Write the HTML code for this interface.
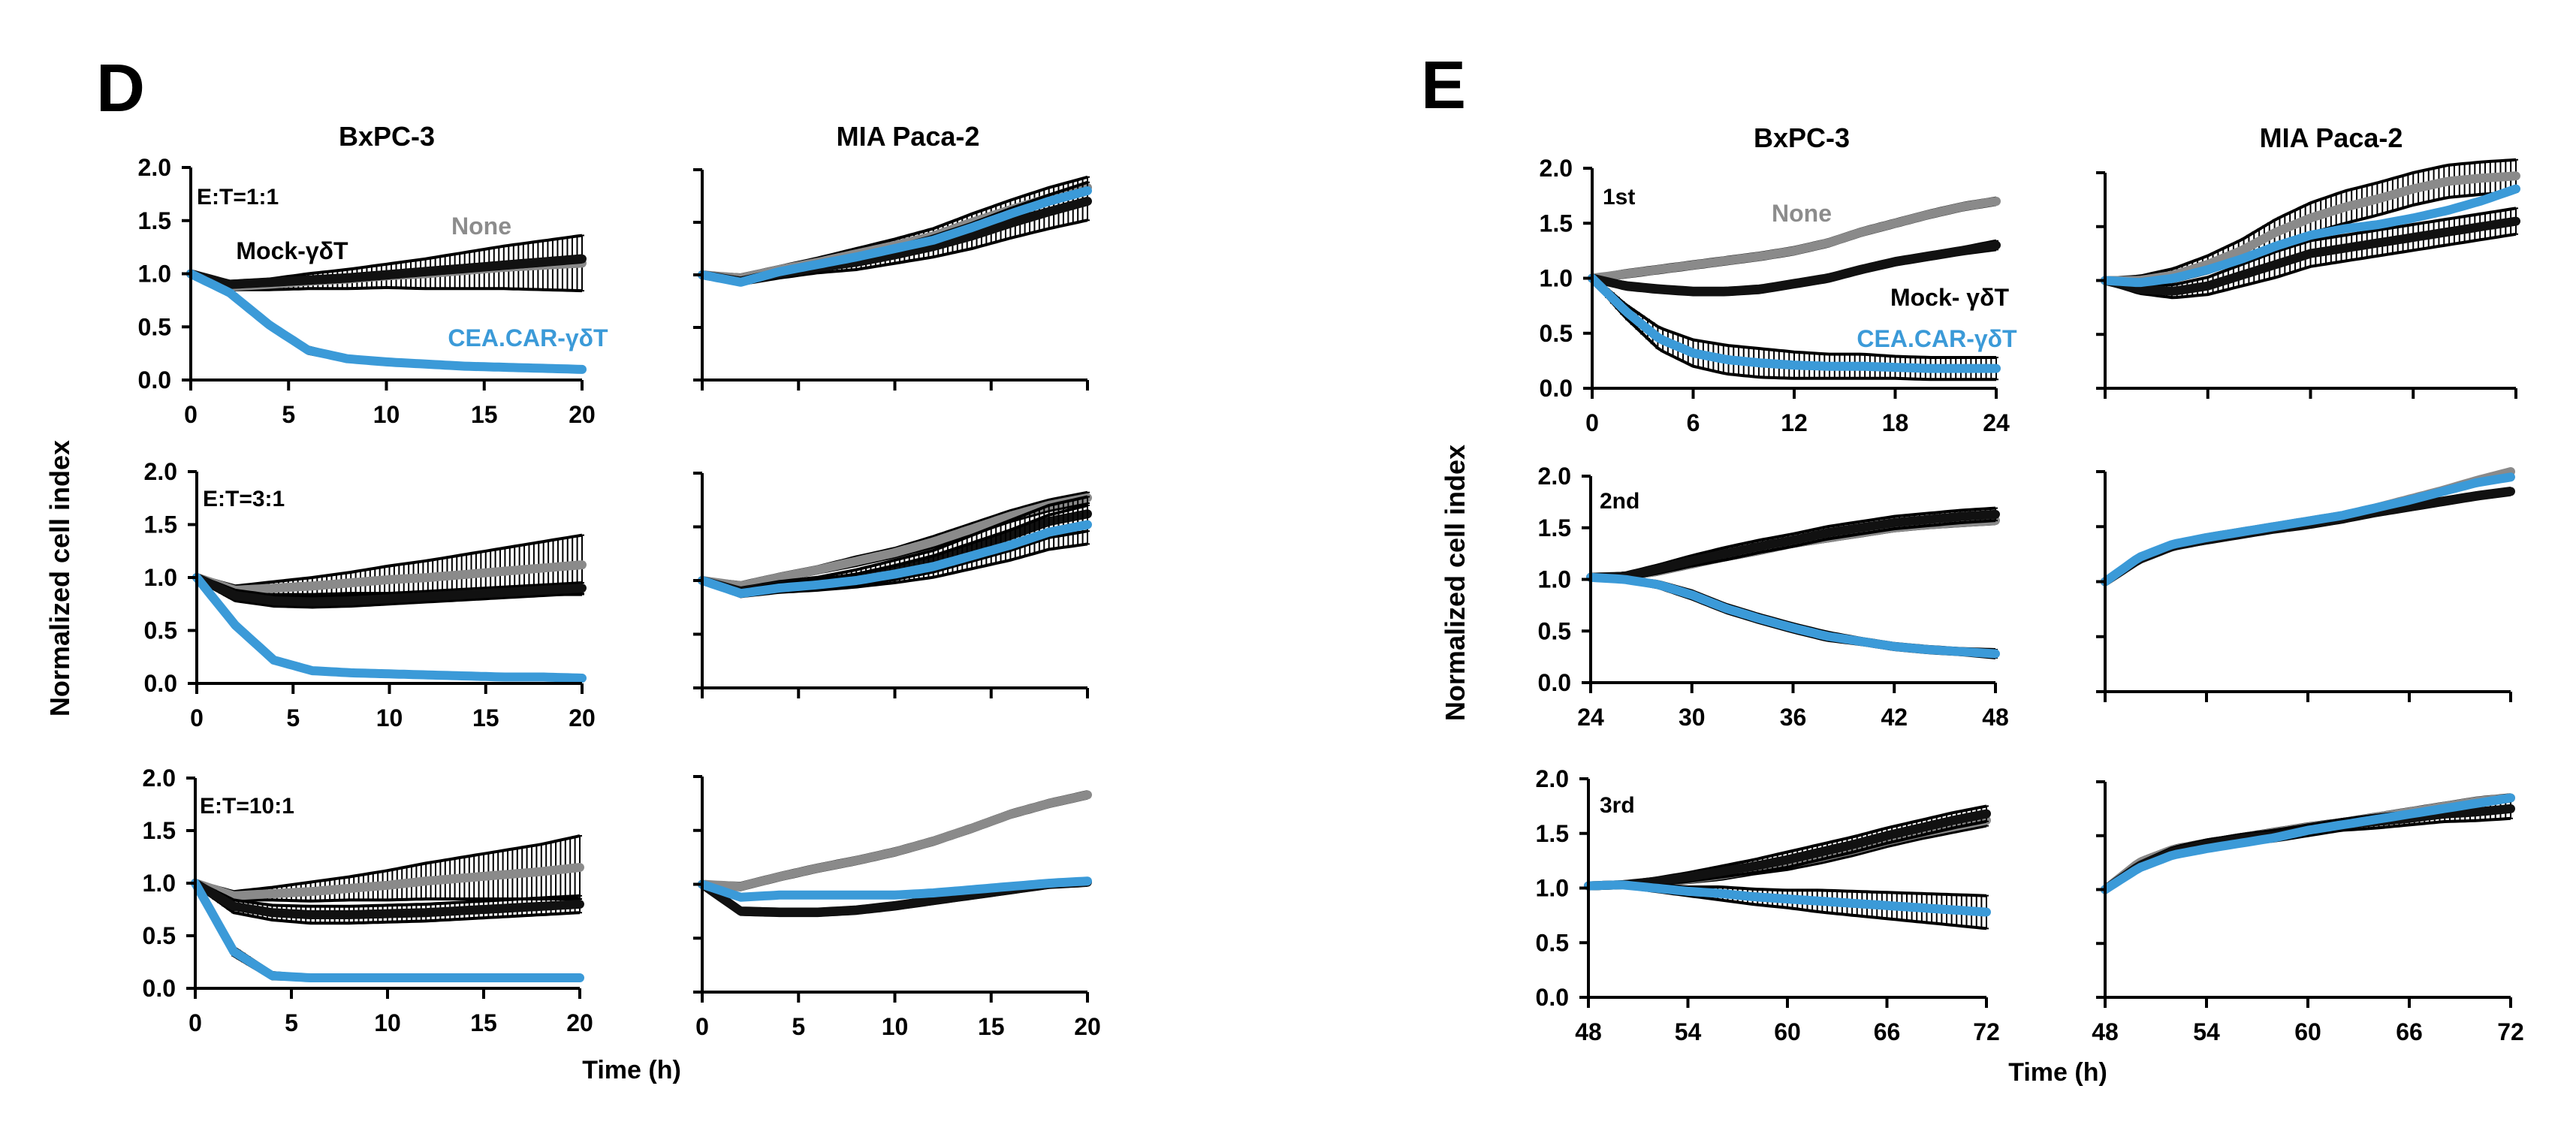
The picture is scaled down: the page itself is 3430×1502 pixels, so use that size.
<!DOCTYPE html>
<html><head><meta charset="utf-8">
<style>
html,body{margin:0;padding:0;background:#fff;}
svg{display:block;}
text{font-family:"Liberation Sans",Arial,sans-serif;font-weight:bold;}
</style></head>
<body>
<svg id="fig" width="3430" height="1502" viewBox="0 0 3430 1502" xmlns="http://www.w3.org/2000/svg">
<rect width="3430" height="1502" fill="#fff"/>
<text x="128" y="148" font-size="90">D</text>
<text x="1892" y="144" font-size="90">E</text>
<text x="515" y="194" font-size="36" text-anchor="middle">BxPC-3</text>
<text x="1209" y="194" font-size="36" text-anchor="middle">MIA Paca-2</text>
<text x="2399" y="196" font-size="36" text-anchor="middle">BxPC-3</text>
<text x="3104" y="196" font-size="36" text-anchor="middle">MIA Paca-2</text>
<text transform="translate(92,770) rotate(-90)" font-size="36" text-anchor="middle">Normalized cell index</text>
<text transform="translate(1950,776) rotate(-90)" font-size="36" text-anchor="middle">Normalized cell index</text>
<text x="841" y="1436" font-size="34" text-anchor="middle">Time (h)</text>
<text x="2740" y="1439" font-size="34" text-anchor="middle">Time (h)</text>
<text x="262" y="272" font-size="30">E:T=1:1</text>
<text x="270" y="674" font-size="30">E:T=3:1</text>
<text x="266" y="1083" font-size="30">E:T=10:1</text>
<text x="2134" y="272" font-size="30">1st</text>
<text x="2130" y="677" font-size="30">2nd</text>
<text x="2130" y="1082" font-size="30">3rd</text>
<text x="641" y="312" font-size="32" fill="#8c8c8c" text-anchor="middle">None</text>
<text x="389" y="345" font-size="32" fill="#000" text-anchor="middle">Mock-γδT</text>
<text x="703" y="461" font-size="32" fill="#3b9ad8" text-anchor="middle">CEA.CAR-γδT</text>
<text x="2399" y="295" font-size="32" fill="#8c8c8c" text-anchor="middle">None</text>
<text x="2596" y="407" font-size="32" fill="#000" text-anchor="middle">Mock- γδT</text>
<text x="2579" y="462" font-size="32" fill="#3b9ad8" text-anchor="middle">CEA.CAR-γδT</text>
<g id="plots"></g>
</svg>
<script>
// ---- data ----
const yTicks = [0, 0.5, 1.0, 1.5, 2.0];
const yTickLabels = ["0.0", "0.5", "1.0", "1.5", "2.0"];
const xTicksD = [0, 5, 10, 15, 20];
const xTicksE1 = [0, 6, 12, 18, 24];
const xTicksE2 = [24, 30, 36, 42, 48];
const xTicksE3 = [48, 54, 60, 66, 72];
const timesD = [0, 2, 4, 6, 8, 10, 12, 14, 16, 18, 20];
const timesE1 = [0, 2, 4, 6, 8, 10, 12, 14, 16, 18, 20, 22, 24];
const timesE2 = [24, 26, 28, 30, 32, 34, 36, 38, 40, 42, 44, 46, 48];
const timesE3 = [48, 50, 52, 54, 56, 58, 60, 62, 64, 66, 68, 70, 72];

// D row1 BxPC-3
const d1bNone = [1.0,0.88,0.9,0.93,0.95,0.98,1.0,1.03,1.06,1.08,1.1];
const d1bNoneErr = [0.02,0.03,0.05,0.07,0.09,0.11,0.14,0.17,0.2,0.23,0.26];
const d1bMock = [1.0,0.9,0.92,0.94,0.96,0.99,1.02,1.05,1.08,1.11,1.14];
const d1bMockErr = [0.02,0.03,0.03,0.03,0.03,0.03,0.03,0.03,0.03,0.03,0.03];
const d1bCar = [1.0,0.82,0.52,0.28,0.2,0.17,0.15,0.13,0.12,0.11,0.1];
const d1bCarErr = [0.02,0.03,0.03,0.03,0.02,0.02,0.02,0.02,0.02,0.02,0.02];
// D row1 MIA
const d1mNone = [1.0,0.97,1.05,1.12,1.2,1.28,1.37,1.5,1.62,1.73,1.83];
const d1mNoneErr = [0.02,0.03,0.03,0.04,0.05,0.06,0.07,0.08,0.09,0.1,0.1];
const d1mMock = [1.0,0.94,1.01,1.07,1.12,1.19,1.27,1.37,1.49,1.6,1.7];
const d1mMockErr = [0.02,0.03,0.04,0.05,0.07,0.08,0.1,0.12,0.14,0.16,0.18];
const d1mCar = [1.0,0.93,1.03,1.1,1.17,1.25,1.33,1.45,1.58,1.7,1.8];
const d1mCarErr = [0.02,0.02,0.02,0.02,0.02,0.02,0.02,0.02,0.02,0.02,0.02];
// D row2 BxPC-3
const d2bNone = [1.0,0.88,0.9,0.92,0.95,0.98,1.0,1.03,1.06,1.09,1.12];
const d2bNoneErr = [0.02,0.04,0.06,0.08,0.1,0.13,0.16,0.19,0.22,0.25,0.28];
const d2bMock = [1.0,0.83,0.78,0.77,0.78,0.8,0.82,0.84,0.86,0.88,0.9];
const d2bMockErr = [0.02,0.05,0.05,0.05,0.05,0.05,0.05,0.05,0.05,0.05,0.05];
const d2bCar = [1.0,0.55,0.22,0.12,0.1,0.09,0.08,0.07,0.06,0.06,0.05];
const d2bCarErr = [0.02,0.03,0.02,0.02,0.02,0.02,0.02,0.02,0.02,0.02,0.02];
// D row2 MIA
const d2mNone = [1.0,0.95,1.03,1.1,1.18,1.26,1.36,1.48,1.6,1.7,1.77];
const d2mNoneErr = [0.02,0.03,0.03,0.03,0.04,0.04,0.05,0.05,0.05,0.05,0.05];
const d2mMock = [1.0,0.9,0.95,0.98,1.03,1.1,1.18,1.3,1.42,1.55,1.62];
const d2mMockErr = [0.02,0.03,0.04,0.05,0.07,0.09,0.1,0.12,0.14,0.15,0.16];
const d2mCar = [1.0,0.88,0.93,0.96,1.0,1.06,1.13,1.23,1.33,1.45,1.52];
const d2mCarErr = [0.02,0.03,0.04,0.05,0.06,0.08,0.1,0.12,0.14,0.16,0.18];
// D row3 BxPC-3
const d3bNone = [1.0,0.88,0.9,0.92,0.95,0.98,1.02,1.05,1.08,1.11,1.15];
const d3bNoneErr = [0.02,0.04,0.06,0.09,0.11,0.14,0.17,0.2,0.23,0.26,0.3];
const d3bMock = [1.0,0.78,0.72,0.7,0.7,0.71,0.72,0.74,0.76,0.78,0.8];
const d3bMockErr = [0.02,0.06,0.07,0.08,0.08,0.08,0.08,0.08,0.08,0.08,0.08];
const d3bCar = [1.0,0.35,0.12,0.1,0.1,0.1,0.1,0.1,0.1,0.1,0.1];
const d3bCarErr = [0.02,0.04,0.03,0.02,0.02,0.02,0.02,0.02,0.02,0.02,0.02];
// D row3 MIA
const d3mNone = [1.0,0.98,1.07,1.15,1.22,1.3,1.4,1.52,1.65,1.75,1.83];
const d3mNoneErr = [0.02,0.03,0.03,0.03,0.03,0.03,0.03,0.03,0.03,0.03,0.03];
const d3mMock = [1.0,0.75,0.74,0.74,0.76,0.8,0.85,0.9,0.95,1.0,1.02];
const d3mMockErr = [0.02,0.03,0.03,0.03,0.03,0.03,0.03,0.03,0.03,0.03,0.03];
const d3mCar = [1.0,0.88,0.9,0.9,0.9,0.9,0.92,0.95,0.98,1.01,1.03];
const d3mCarErr = [0.02,0.02,0.02,0.02,0.02,0.02,0.02,0.02,0.02,0.02,0.02];
// E row1 BxPC-3
const e1bNone = [1.0,1.04,1.08,1.12,1.16,1.2,1.25,1.32,1.42,1.5,1.58,1.65,1.7];
const e1bNoneErr = [0.02,0.03,0.03,0.03,0.03,0.03,0.03,0.03,0.03,0.03,0.03,0.03,0.03];
const e1bMock = [1.0,0.93,0.9,0.88,0.88,0.9,0.95,1.0,1.08,1.15,1.2,1.25,1.3];
const e1bMockErr = [0.02,0.03,0.03,0.03,0.03,0.03,0.03,0.03,0.03,0.03,0.03,0.03,0.04];
const e1bCar = [1.0,0.7,0.45,0.32,0.26,0.23,0.21,0.2,0.2,0.19,0.18,0.18,0.18];
const e1bCarErr = [0.02,0.06,0.1,0.12,0.13,0.13,0.12,0.11,0.11,0.1,0.1,0.1,0.1];
// E row1 MIA
const e1mNone = [1.0,1.0,1.05,1.15,1.28,1.45,1.58,1.68,1.76,1.85,1.92,1.95,1.97];
const e1mNoneErr = [0.02,0.04,0.06,0.08,0.1,0.12,0.14,0.15,0.15,0.15,0.15,0.15,0.15];
const e1mMock = [1.0,0.92,0.9,0.95,1.05,1.15,1.25,1.3,1.35,1.4,1.45,1.5,1.55];
const e1mMockErr = [0.02,0.04,0.06,0.08,0.1,0.12,0.12,0.12,0.12,0.12,0.12,0.12,0.12];
const e1mCar = [1.0,0.98,1.02,1.1,1.2,1.32,1.42,1.48,1.52,1.58,1.65,1.74,1.85];
const e1mCarErr = [0.02,0.02,0.02,0.02,0.02,0.02,0.02,0.02,0.02,0.02,0.02,0.02,0.02];
// E row2 BxPC-3
const e2bNone = [1.02,1.03,1.08,1.15,1.22,1.28,1.35,1.4,1.45,1.5,1.53,1.55,1.57];
const e2bNoneErr = [0.02,0.03,0.03,0.03,0.03,0.03,0.03,0.03,0.03,0.03,0.03,0.03,0.03];
const e2bMock = [1.02,1.03,1.1,1.18,1.25,1.32,1.38,1.45,1.5,1.55,1.58,1.61,1.63];
const e2bMockErr = [0.02,0.03,0.04,0.05,0.06,0.06,0.06,0.06,0.06,0.06,0.06,0.06,0.06];
const e2bCar = [1.02,1.0,0.95,0.85,0.72,0.62,0.53,0.45,0.4,0.35,0.32,0.3,0.28];
const e2bCarErr = [0.02,0.02,0.03,0.04,0.04,0.04,0.04,0.04,0.03,0.03,0.03,0.03,0.04];
// E row2 MIA
const e2mNone = [1.0,1.2,1.33,1.4,1.45,1.5,1.55,1.6,1.67,1.75,1.83,1.92,2.0];
const e2mNoneErr = [0.02,0.02,0.02,0.02,0.02,0.02,0.02,0.02,0.02,0.02,0.02,0.02,0.02];
const e2mMock = [1.0,1.2,1.32,1.38,1.43,1.48,1.52,1.57,1.63,1.68,1.73,1.78,1.82];
const e2mMockErr = [0.02,0.02,0.02,0.03,0.03,0.03,0.03,0.03,0.03,0.03,0.03,0.03,0.03];
const e2mCar = [1.0,1.22,1.34,1.4,1.45,1.5,1.55,1.6,1.67,1.74,1.82,1.9,1.95];
const e2mCarErr = [0.02,0.02,0.02,0.02,0.02,0.02,0.02,0.02,0.02,0.02,0.02,0.02,0.02];
// E row3 BxPC-3
const e3bNone = [1.02,1.03,1.05,1.08,1.12,1.17,1.22,1.28,1.35,1.43,1.5,1.56,1.62];
const e3bNoneErr = [0.02,0.02,0.03,0.03,0.04,0.04,0.05,0.05,0.05,0.05,0.05,0.05,0.05];
const e3bMock = [1.02,1.03,1.06,1.1,1.15,1.2,1.26,1.33,1.4,1.48,1.55,1.62,1.68];
const e3bMockErr = [0.02,0.02,0.03,0.04,0.05,0.06,0.07,0.07,0.07,0.07,0.07,0.07,0.07];
const e3bCar = [1.02,1.03,1.0,0.97,0.95,0.92,0.9,0.88,0.86,0.84,0.82,0.8,0.78];
const e3bCarErr = [0.02,0.02,0.03,0.04,0.06,0.07,0.08,0.1,0.11,0.12,0.13,0.14,0.15];
// E row3 MIA
const e3mNone = [1.0,1.25,1.37,1.43,1.48,1.53,1.58,1.62,1.67,1.72,1.77,1.82,1.85];
const e3mNoneErr = [0.02,0.03,0.03,0.03,0.03,0.03,0.03,0.03,0.03,0.03,0.03,0.03,0.03];
const e3mMock = [1.0,1.22,1.35,1.42,1.47,1.5,1.55,1.6,1.63,1.66,1.7,1.72,1.75];
const e3mMockErr = [0.02,0.03,0.04,0.04,0.04,0.05,0.05,0.05,0.06,0.06,0.07,0.08,0.09];
const e3mCar = [1.0,1.2,1.32,1.38,1.43,1.48,1.55,1.6,1.65,1.7,1.75,1.8,1.85];
const e3mCarErr = [0.02,0.02,0.02,0.02,0.02,0.02,0.02,0.02,0.02,0.02,0.02,0.02,0.02];

// ---- layout (geometry only) ----
const NS = "http://www.w3.org/2000/svg";
const root = document.getElementById("plots");
const panels = [
 {id:"d-row1-bxpc3", x0:254, x1:775, y0:506, y1:223, t:timesD, xt:xTicksD, yl:true, xl:true, s:[d1bNone,d1bNoneErr,d1bMock,d1bMockErr,d1bCar,d1bCarErr]},
 {id:"d-row1-mia", x0:935, x1:1448, y0:506, y1:226, t:timesD, xt:xTicksD, yl:false, xl:false, s:[d1mNone,d1mNoneErr,d1mMock,d1mMockErr,d1mCar,d1mCarErr]},
 {id:"d-row2-bxpc3", x0:262, x1:775, y0:910, y1:628, t:timesD, xt:xTicksD, yl:true, xl:true, s:[d2bNone,d2bNoneErr,d2bMock,d2bMockErr,d2bCar,d2bCarErr]},
 {id:"d-row2-mia", x0:935, x1:1448, y0:916, y1:630, t:timesD, xt:xTicksD, yl:false, xl:false, s:[d2mNone,d2mNoneErr,d2mMock,d2mMockErr,d2mCar,d2mCarErr]},
 {id:"d-row3-bxpc3", x0:260, x1:772, y0:1316, y1:1036, t:timesD, xt:xTicksD, yl:true, xl:true, s:[d3bNone,d3bNoneErr,d3bMock,d3bMockErr,d3bCar,d3bCarErr]},
 {id:"d-row3-mia", x0:935, x1:1448, y0:1321, y1:1034, t:timesD, xt:xTicksD, yl:false, xl:true, s:[d3mNone,d3mNoneErr,d3mMock,d3mMockErr,d3mCar,d3mCarErr]},
 {id:"e-row1-bxpc3", x0:2120, x1:2658, y0:517, y1:224, t:timesE1, xt:xTicksE1, yl:true, xl:true, s:[e1bNone,e1bNoneErr,e1bMock,e1bMockErr,e1bCar,e1bCarErr]},
 {id:"e-row1-mia", x0:2803, x1:3350, y0:517, y1:230, t:timesE1, xt:xTicksE1, yl:false, xl:false, s:[e1mNone,e1mNoneErr,e1mMock,e1mMockErr,e1mCar,e1mCarErr]},
 {id:"e-row2-bxpc3", x0:2118, x1:2657, y0:909, y1:634, t:timesE2, xt:xTicksE2, yl:true, xl:true, s:[e2bNone,e2bNoneErr,e2bMock,e2bMockErr,e2bCar,e2bCarErr]},
 {id:"e-row2-mia", x0:2803, x1:3343, y0:921, y1:628, t:timesE2, xt:xTicksE2, yl:false, xl:false, s:[e2mNone,e2mNoneErr,e2mMock,e2mMockErr,e2mCar,e2mCarErr]},
 {id:"e-row3-bxpc3", x0:2115, x1:2645, y0:1328, y1:1037, t:timesE3, xt:xTicksE3, yl:true, xl:true, s:[e3bNone,e3bNoneErr,e3bMock,e3bMockErr,e3bCar,e3bCarErr]},
 {id:"e-row3-mia", x0:2803, x1:3343, y0:1328, y1:1041, t:timesE3, xt:xTicksE3, yl:false, xl:true, s:[e3mNone,e3mNoneErr,e3mMock,e3mMockErr,e3mCar,e3mCarErr]}
];
const seriesNames = ["none","mock","car"];
const seriesColors = ["#8a8a8a","#111111","#3b9ad8"];

function mk(tag, attrs, parent){
  const el = document.createElementNS(NS, tag);
  for (const k in attrs) el.setAttribute(k, attrs[k]);
  parent.appendChild(el);
  return el;
}
function interp(ts, vs, t){
  for (let i=0;i<ts.length-1;i++){
    if (t<=ts[i+1]){ const f=(t-ts[i])/(ts[i+1]-ts[i]); return vs[i]+(vs[i+1]-vs[i])*f; }
  }
  return vs[vs.length-1];
}

panels.forEach(p=>{
  const g = mk("g", {}, root);
  
  
  const tMin = p.xt[0], tMax = p.xt[p.xt.length-1];
  const sx = t => p.x0 + (t - tMin) / (tMax - tMin) * (p.x1 - p.x0);
  const sy = v => p.y0 + (v / 2) * (p.y1 - p.y0);
  for (let k=0;k<3;k++){
    const vals = p.s[2*k], errs = p.s[2*k+1];
    const sg = mk("g", {}, g);
    
    
    const n = 80;
    let up = "", lo = "", mid = "";
    for (let i=0;i<=n;i++){
      const t = tMin + (tMax-tMin)*i/n;
      const v = interp(p.t, vals, t), e = interp(p.t, errs, t);
      const x = sx(t);
      up += x.toFixed(1)+","+sy(v+e).toFixed(1)+" ";
      lo += x.toFixed(1)+","+sy(v-e).toFixed(1)+" ";
      mid += x.toFixed(1)+","+sy(v).toFixed(1)+" ";
      if (e > 0.035){
        const eb = mk("path", {d:"M"+x+" "+sy(v+e)+"V"+sy(v-e)+"M"+(x-3)+" "+sy(v+e)+"h6M"+(x-3)+" "+sy(v-e)+"h6", stroke:"#000", "stroke-width":2, fill:"none"}, sg);
        
        
      }
    }
    const u = mk("polyline", {points:up, fill:"none", stroke:"#000", "stroke-width":4}, sg);
    
    
    const l = mk("polyline", {points:lo, fill:"none", stroke:"#000", "stroke-width":4}, sg);
    
    
    const m = mk("polyline", {points:mid, fill:"none", stroke:seriesColors[k], "stroke-width":12, "stroke-linejoin":"round", "stroke-linecap":"round"}, sg);
    
    
  }
  const ax = mk("path", {d:"M"+p.x0+" "+p.y1+"V"+p.y0+"H"+p.x1, stroke:"#000", "stroke-width":4, fill:"none"}, g);
  
  
  yTicks.forEach((v,i)=>{
    const tk = mk("line", {x1:p.x0-12, x2:p.x0, y1:sy(v), y2:sy(v), stroke:"#000", "stroke-width":4}, g);
    
    
    if (p.yl){
      const tl = mk("text", {x:p.x0-26, y:sy(v)+11, "font-size":32, "text-anchor":"end"}, g);
      tl.textContent = yTickLabels[i];
      
      
    }
  });
  p.xt.forEach(t=>{
    const tk = mk("line", {x1:sx(t), x2:sx(t), y1:p.y0, y2:p.y0+14, stroke:"#000", "stroke-width":4}, g);
    
    
    if (p.xl){
      const tl = mk("text", {x:sx(t), y:p.y0+57, "font-size":32, "text-anchor":"middle"}, g);
      tl.textContent = String(t);
      
      
    }
  });
});
</script>
</body></html>
